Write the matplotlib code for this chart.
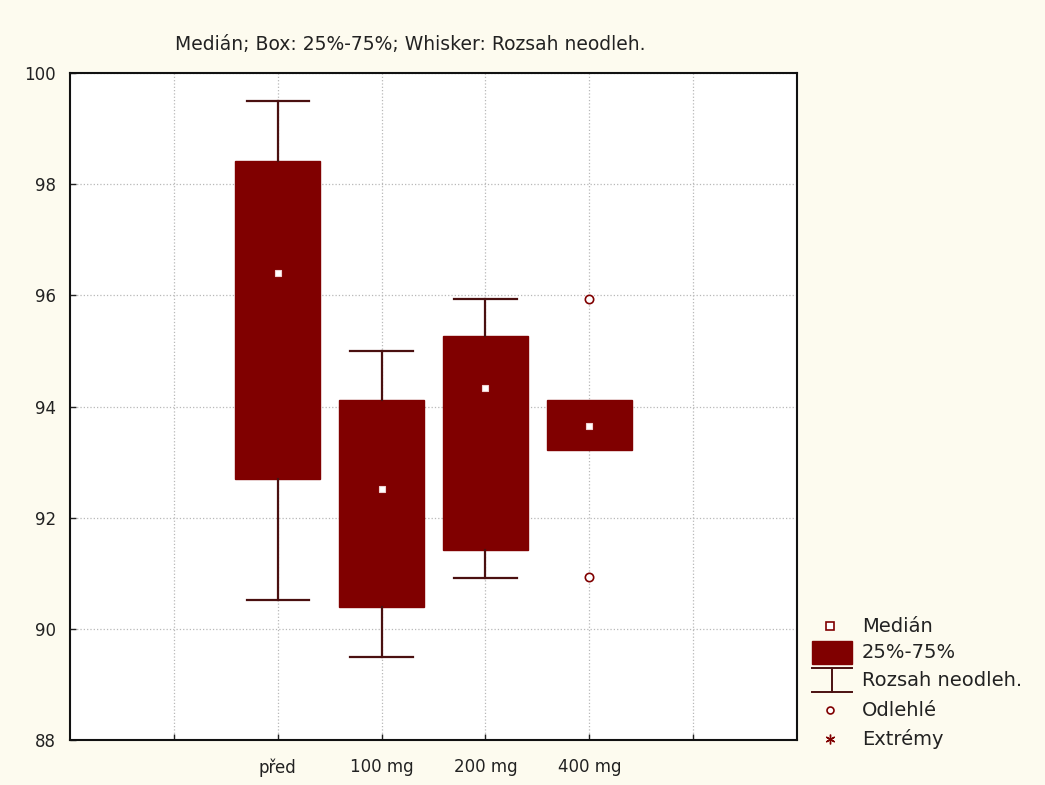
import matplotlib
matplotlib.use("Agg")
import matplotlib.pyplot as plt
from matplotlib.patches import Rectangle

# Souhrnné statistiky pro každou skupinu
groups = ["před", "100 mg", "200 mg", "400 mg"]
medians = [96.4, 92.52, 94.33, 93.65]
q1 = [92.7, 90.4, 91.42, 93.22]
q3 = [98.42, 94.12, 95.27, 94.12]
whisker_low = [90.52, 89.5, 90.92, 93.22]
whisker_high = [99.5, 95.0, 95.94, 94.12]
outliers = [[], [], [], [95.94, 90.93]]

positions = [2, 3, 4, 5]
maroon = "#800000"
whisker_col = "#4a1010"
bg = "#fdfbef"
txt = "#222222"

fig = plt.figure(figsize=(10.45, 7.85), dpi=100, facecolor=bg)
ax = fig.add_axes([70 / 1045, 45 / 785, 727 / 1045, 667 / 785])
ax.set_facecolor("white")

stats = []
for i, name in enumerate(groups):
    stats.append({
        "label": name,
        "med": medians[i],
        "q1": q1[i],
        "q3": q3[i],
        "whislo": whisker_low[i],
        "whishi": whisker_high[i],
        "fliers": outliers[i],
    })

bp = ax.bxp(
    stats,
    positions=positions,
    widths=0.82,
    capwidths=0.6,
    patch_artist=True,
    boxprops=dict(facecolor=maroon, edgecolor=maroon, linewidth=1),
    whiskerprops=dict(color=whisker_col, linewidth=1.6),
    capprops=dict(color=whisker_col, linewidth=1.6),
    medianprops=dict(visible=False),
    flierprops=dict(marker="o", markersize=6, markerfacecolor="white",
                    markeredgecolor=maroon, markeredgewidth=1.2),
    manage_ticks=False,
    zorder=3,
)

# bez fousů tam, kde rozsah splývá s krabicí
for i in range(len(groups)):
    if whisker_low[i] == q1[i] and whisker_high[i] == q3[i]:
        for art in bp["caps"][2 * i:2 * i + 2] + bp["whiskers"][2 * i:2 * i + 2]:
            art.set_visible(False)

ax.plot(positions, medians, linestyle="none", marker="s", markersize=5,
        markerfacecolor="white", markeredgecolor="#f0d0d0", markeredgewidth=0.8,
        zorder=5)

ax.set_xlim(0, 7)
ax.set_ylim(88, 100)
ax.set_xticks([1, 2, 3, 4, 5, 6])
ax.set_xticklabels([""] + groups + [""])
ax.set_yticks([88, 90, 92, 94, 96, 98, 100])
ax.tick_params(direction="in", length=4, width=1, labelsize=12, colors=txt)
ax.tick_params(axis="x", pad=13)
ax.tick_params(axis="y", pad=10)
ax.grid(True, linestyle=":", color="#b8b8b8", linewidth=0.9, zorder=0)
ax.set_axisbelow(True)
for sp in ax.spines.values():
    sp.set_linewidth(1.5)
    sp.set_color("#111111")

fig.text(410 / 1045, 1 - 44 / 785, "Medián; Box: 25%-75%; Whisker: Rozsah neodleh.",
         ha="center", va="center", fontsize=13.5, color=txt)

# legenda vpravo dole, souřadnice v pixelech
lg = fig.add_axes([800 / 1045, 25 / 785, 245 / 1045, 160 / 785])
lg.set_xlim(800, 1045)
lg.set_ylim(760, 600)
lg.axis("off")
lg.plot([830], [626], marker="s", markersize=6, markerfacecolor="white",
        markeredgecolor=maroon, markeredgewidth=1.2, linestyle="none")
lg.add_patch(Rectangle((812, 641), 40, 23, facecolor=maroon, edgecolor=maroon))
lg.plot([812, 852], [668, 668], color=whisker_col, linewidth=1.4)
lg.plot([812, 852], [692, 692], color=whisker_col, linewidth=1.4)
lg.plot([832, 832], [668, 692], color=whisker_col, linewidth=1.4)
lg.plot([830], [710], marker="o", markersize=5, markerfacecolor="white",
        markeredgecolor=maroon, markeredgewidth=1.2, linestyle="none")
lg.plot([830], [739], marker=(6, 2, 0), markersize=7, color=maroon,
        markeredgewidth=1, linestyle="none")

legend_labels = ["Medián", "25%-75%", "Rozsah neodleh.", "Odlehlé", "Extrémy"]
legend_y = [626, 653, 680, 710, 739]
for label, y in zip(legend_labels, legend_y):
    lg.text(862, y, label, ha="left", va="center", fontsize=14, color=txt)

fig.savefig("out.png", dpi=100, facecolor=bg)
